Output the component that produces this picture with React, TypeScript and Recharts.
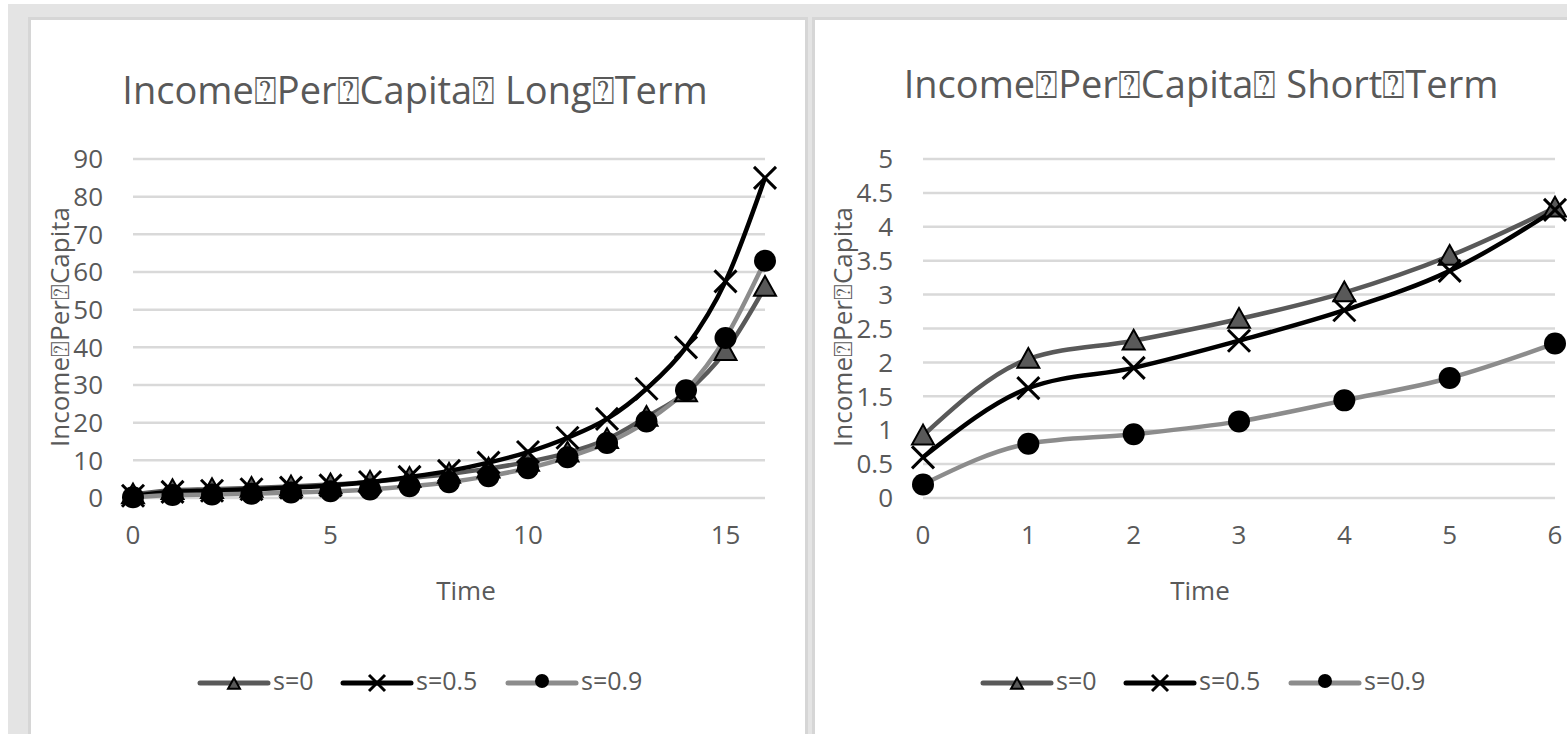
import { LineChart, Line, XAxis, YAxis, CartesianGrid } from 'recharts'

// long term panel
const longTime = [0, 1, 2, 3, 4, 5, 6, 7, 8, 9, 10, 11, 12, 13, 14, 15, 16]
const longS0 = [0.92, 2.05, 2.32, 2.64, 3.03, 3.57, 4.28, 5.3, 6.4, 7.8, 9.6, 12, 15.6, 21.5, 28, 39, 56]
const longS05 = [0.6, 1.62, 1.92, 2.32, 2.77, 3.35, 4.25, 5.6, 7.2, 9.4, 12.2, 16, 21, 29, 40, 57.5, 85]
const longS09 = [0.2, 0.8, 0.94, 1.13, 1.44, 1.77, 2.28, 3.1, 4.2, 5.8, 7.9, 10.8, 14.6, 20.3, 28.6, 42.5, 63]
const longXTicks = [0, 5, 10, 15]
const longYTicks = [0, 10, 20, 30, 40, 50, 60, 70, 80, 90]

// short term panel
const shortTime = [0, 1, 2, 3, 4, 5, 6]
const shortS0 = [0.92, 2.05, 2.32, 2.64, 3.03, 3.57, 4.28]
const shortS05 = [0.6, 1.62, 1.92, 2.32, 2.77, 3.35, 4.25]
const shortS09 = [0.2, 0.8, 0.94, 1.13, 1.44, 1.77, 2.28]
const shortXTicks = [0, 1, 2, 3, 4, 5, 6]
const shortYTicks = [0, 0.5, 1, 1.5, 2, 2.5, 3, 3.5, 4, 4.5, 5]

const seriesNames = ['s=0', 's=0.5', 's=0.9']

const longData = longTime.map((t, i) => ({ t, s0: longS0[i], s05: longS05[i], s09: longS09[i] }))
const shortData = shortTime.map((t, i) => ({ t, s0: shortS0[i], s05: shortS05[i], s09: shortS09[i] }))

const FONT = '"Open Sans", "DejaVu Sans", sans-serif'
const TXT = '#595959'
const DARK = '#595959'
const LIGHT = '#8c8c8c'

function Tri({ cx, cy, r = 11 }: any) {
  return (
    <polygon
      points={`${cx},${cy - r} ${cx - r},${cy + r * 0.8} ${cx + r},${cy + r * 0.8}`}
      fill={DARK}
      stroke="#000"
      strokeWidth={2}
    />
  )
}

function Cross({ cx, cy, r = 11 }: any) {
  return (
    <g stroke="#000" strokeWidth={3}>
      <line x1={cx - r} y1={cy - r} x2={cx + r} y2={cy + r} />
      <line x1={cx - r} y1={cy + r} x2={cx + r} y2={cy - r} />
    </g>
  )
}

function Dot({ cx, cy, r = 11 }: any) {
  return <circle cx={cx} cy={cy} r={r} fill="#000" />
}

const triDot = (p: any) => <Tri key={`t${p.index}`} cx={p.cx} cy={p.cy} />
const crossDot = (p: any) => <Cross key={`x${p.index}`} cx={p.cx} cy={p.cy} />
const circDot = (p: any) => <Dot key={`c${p.index}`} cx={p.cx} cy={p.cy} />

function Text({ x, y, size, children, rotate }: any) {
  return (
    <div
      style={{
        position: 'absolute',
        left: x,
        top: y,
        transform: `translate(-50%, -50%)${rotate ? ' rotate(-90deg)' : ''}`,
        whiteSpace: 'nowrap',
        fontFamily: FONT,
        fontSize: size,
        color: TXT,
        lineHeight: 1,
      }}
    >
      {children}
    </div>
  )
}

function Legend({ x }: { x: number }) {
  const y = 683
  const items = [
    { color: DARK, w: 5, mark: (cx: number) => <Tri cx={cx} cy={y + 1} r={6} /> },
    { color: '#000', w: 5, mark: (cx: number) => <Cross cx={cx} cy={y} r={8} /> },
    { color: LIGHT, w: 5, mark: (cx: number) => <Dot cx={cx} cy={y - 2} r={7} /> },
  ]
  const starts = [0, 143, 308]
  return (
    <>
      <svg style={{ position: 'absolute', left: 0, top: 0 }} width={1567} height={734}>
        {items.map((it, i) => {
          const x0 = x + starts[i]
          return (
            <g key={i}>
              <line x1={x0} y1={y} x2={x0 + 68} y2={y} stroke={it.color} strokeWidth={it.w} strokeLinecap="round" />
              {it.mark(x0 + 34)}
            </g>
          )
        })}
      </svg>
      {seriesNames.map((n, i) => (
        <div
          key={n}
          style={{
            position: 'absolute',
            left: x + starts[i] + 73,
            top: y - 15,
            fontFamily: FONT,
            fontSize: 25,
            color: TXT,
            lineHeight: 1,
            whiteSpace: 'nowrap',
          }}
        >
          {n}
        </div>
      ))}
    </>
  )
}

const tickStyle = { fill: TXT, fontSize: 26, fontFamily: FONT }

export default function App() {
  return (
    <div style={{ position: 'absolute', left: 0, top: 0, width: 1567, height: 734, background: '#fff', overflow: 'hidden' }}>
      <div style={{ position: 'absolute', left: 8, top: 4, right: 0, bottom: 0, background: '#e4e4e4' }} />
      <div style={{ position: 'absolute', left: 28, top: 17, width: 780, height: 800, boxSizing: 'border-box', border: '3px solid #d6d6d6', background: '#fff' }} />
      <div style={{ position: 'absolute', left: 812, top: 17, width: 800, height: 800, boxSizing: 'border-box', border: '3px solid #d6d6d6', background: '#fff' }} />

      <div style={{ position: 'absolute', left: 0, top: 0 }}>
        <LineChart width={805} height={734} data={longData} margin={{ top: 159, right: 40, bottom: 176, left: 0 }}>
          <CartesianGrid vertical={false} stroke="#d9d9d9" strokeWidth={2.5} />
          <XAxis dataKey="t" type="number" domain={[0, 16]} ticks={longXTicks} axisLine={false} tickLine={false} tickSize={0} tickMargin={28} height={60} tick={tickStyle} interval={0} />
          <YAxis type="number" domain={[0, 90]} ticks={longYTicks} axisLine={false} tickLine={false} tickSize={0} tickMargin={30} width={133} tick={tickStyle} interval={0} />
          <Line type="monotone" dataKey="s0" stroke={DARK} strokeWidth={4.5} dot={triDot} activeDot={false} isAnimationActive={false} />
          <Line type="monotone" dataKey="s05" stroke="#000" strokeWidth={4.5} dot={crossDot} activeDot={false} isAnimationActive={false} />
          <Line type="monotone" dataKey="s09" stroke={LIGHT} strokeWidth={4.5} dot={circDot} activeDot={false} isAnimationActive={false} />
        </LineChart>
      </div>

      <div style={{ position: 'absolute', left: 812, top: 0 }}>
        <LineChart width={755} height={734} data={shortData} margin={{ top: 159, right: 12, bottom: 176, left: 0 }}>
          <CartesianGrid vertical={false} stroke="#d9d9d9" strokeWidth={2.5} />
          <XAxis dataKey="t" type="number" domain={[0, 6]} ticks={shortXTicks} axisLine={false} tickLine={false} tickSize={0} tickMargin={28} height={60} tick={tickStyle} interval={0} />
          <YAxis type="number" domain={[0, 5]} ticks={shortYTicks} axisLine={false} tickLine={false} tickSize={0} tickMargin={30} width={111} tick={tickStyle} interval={0} />
          <Line type="monotone" dataKey="s0" stroke={DARK} strokeWidth={4.5} dot={triDot} activeDot={false} isAnimationActive={false} />
          <Line type="monotone" dataKey="s05" stroke="#000" strokeWidth={4.5} dot={crossDot} activeDot={false} isAnimationActive={false} />
          <Line type="monotone" dataKey="s09" stroke={LIGHT} strokeWidth={4.5} dot={circDot} activeDot={false} isAnimationActive={false} />
        </LineChart>
      </div>

      <Text x={415} y={89} size={38}>Income⍰Per⍰Capita⍰ Long⍰Term</Text>
      <Text x={1201} y={83} size={38}>Income⍰Per⍰Capita⍰ Short⍰Term</Text>
      <Text x={59} y={327} size={26} rotate>Income⍰Per⍰Capita</Text>
      <Text x={842} y={327} size={26} rotate>Income⍰Per⍰Capita</Text>
      <Text x={466} y={590} size={26}>Time</Text>
      <Text x={1200} y={590} size={26}>Time</Text>

      <Legend x={200} />
      <Legend x={983} />
    </div>
  )
}
